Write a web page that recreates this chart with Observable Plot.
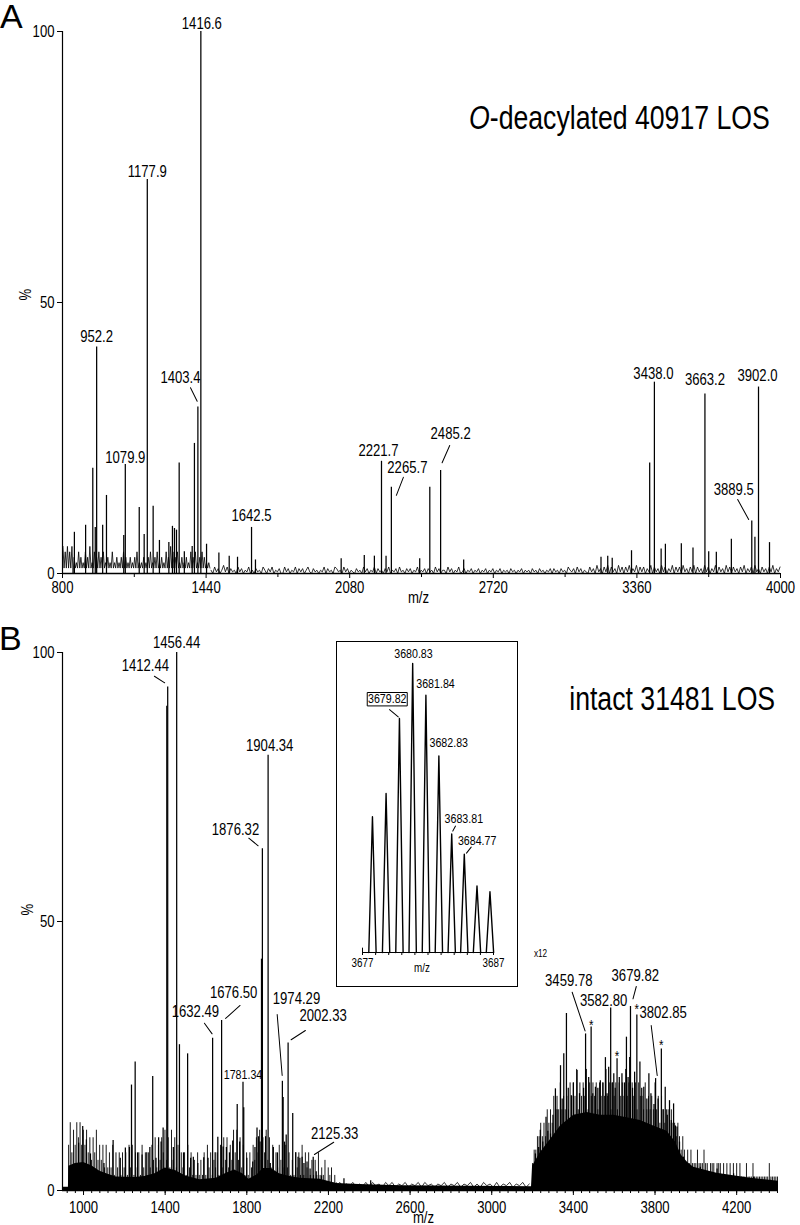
<!DOCTYPE html>
<html><head><meta charset="utf-8">
<script src="https://cdn.jsdelivr.net/npm/d3@7"></script>
<script src="https://cdn.jsdelivr.net/npm/@observablehq/plot@0.6"></script>
<style>
body{margin:0;background:#fff;}
#root{position:relative;width:800px;height:1225px;overflow:hidden;background:#fff;}
.abs{position:absolute;}
.title{font-family:"Liberation Sans Narrow","Arial Narrow","Liberation Sans",Arial,sans-serif;font-size:32.5px;line-height:1;white-space:nowrap;color:#000;transform:scaleX(0.82);transform-origin:right center;}
.letter{font-family:"Liberation Sans",Arial,sans-serif;font-size:34px;line-height:30px;color:#000;}
#inset{position:absolute;left:336px;top:641px;width:180px;height:344px;border:1px solid #000;background:#fff;}
</style></head>
<body><div id="root">
<div id="pa" class="abs" style="left:0;top:0"></div>
<div id="pb" class="abs" style="left:0;top:610px"></div>
<div id="inset"></div>
<div class="abs letter" style="left:0;top:1px">A</div>
<div class="abs letter" style="left:-1px;top:622.5px">B</div>
<div class="abs title" style="right:30px;top:101.8px"><i>O</i>-deacylated 40917 LOS</div>
<div class="abs title" style="right:25px;top:682.5px">intact 31481 LOS</div>
</div>
<script>
const FONT = '"Liberation Sans Narrow","Arial Narrow","Liberation Sans",Arial,sans-serif';
const NARROW = 0.82; // horizontal condensing of the sans face, to mimic the narrow original

// ---------- Panel A: O-deacylated 40917 LOS ----------
const ticksA = [800, 1440, 2080, 2720, 3360, 4000];
const minorTicksA = [1120, 1760, 2400, 3040, 3680];
const yTicks = [0, 50, 100];
const peaksA = [
[853,7.6],[903,8.9],[935,19.4],[946,8.5],[952.2,41.8],[979,8.9],[996,14.4],[1073,7],[1079.9,20.1],[1142,12.2],[1164,7.2],[1177.9,72.7],[1204,12.4],[1232,6.1],[1274,5.7],[1290,8.7],[1299,8.3],[1308,8],[1320,20.4],[1343,4],[1378,5],[1388,24],[1403.4,30.7],[1416.6,100],[1442,5.4],[1497,3.8],[1543,3.2],[1580,3],[1642.5,8.5],[1660,2.5],[2042,2.7],[2145,3.3],[2190,3.2],[2221.7,20.7],[2242,3.2],[2265.7,15.9],[2392,2.7],[2437,15.9],[2485.2,19],[2588,2.5],[3200,3],[3230,3.2],[3250,2.8],[3336,4.2],[3417,20.4],[3438,35.3],[3468,4.5],[3487,5.4],[3558,5.5],[3610,4.7],[3663.2,33.1],[3680,4],[3714,3.9],[3781,6.3],[3872,9.7],[3886,6.7],[3902,34.4],[3951,5.7]
];
// baseline noise read as digit strings (first in %, second in 0.3 % units)
const noiseA1 = "5141514150"+"3121413121"+"4131512141"+"3141314121"+"3121412131"+"2131413121"+"3121314121"+"2131213141"+"2131412131"+"2141315141"+"3141213121"+"3121413141"+"2131413121"+"21";
const noiseA2 = "2041302514"+"0312041302"+"1402031204"+"2031402130"+"0413021403"+"1302410312"+"0214031204"+"3120413021"+"0312041302"+"1403120314"+"0213041203"+"1302140213"+"0312041302"+"2041302140"+"1302130213"+"0213021302"+"1302120312"+"0213021203"+"1203120213"+"0312031204"+"2130413021"+"0413051304"+"1504130514"+"0415031504"+"1403150413"+"0514031504"+"1405130415"+"0413051403"+"1504130514"+"0413041503"+"1405130413"+"04150314";
const labelsA = [["952.2",952.2],["1079.9",1079.9],["1177.9",1177.9],["1403.4",1403.4],["1416.6",1416.6],["1642.5",1642.5],["2221.7",2221.7],["2265.7",2265.7],["2485.2",2485.2],["3438.0",3438],["3663.2",3663.2],["3889.5",3872],["3902.0",3902]];

// ---------- Panel B: intact 31481 LOS ----------
const ticksB = [1000, 1400, 1800, 2200, 2600, 3000, 3400, 3800, 4200];
const peaksB = [
[976,8.8],[996,11.9],[1014,9.4],[1034,6.8],[1100,5],[1145,9.3],[1180,6],[1205,7.9],[1225,8],[1235,19.6],[1253,23.9],[1265,7],[1287,6.6],[1310,7],[1325,8],[1339,21.2],[1355,6],[1368,9.8],[1380,9],[1390,11.6],[1408,90],[1412.44,93.6],[1440,8],[1456.44,100],[1470,27.1],[1490,7],[1510,25.4],[1525,6],[1538,6.2],[1560,5],[1589,6.1],[1610,6],[1632.49,28.3],[1645,7],[1658,9.9],[1676.5,31.6],[1684,8.1],[1700,8],[1715,7],[1731,9.2],[1753,16],[1765,9],[1781.34,20.1],[1785,15.4],[1800,6],[1829,5.3],[1840,8],[1850,11.6],[1858,10],[1865,9],[1872,43],[1876.32,63.5],[1892,10],[1904.34,80.9],[1915,5],[1930,8],[1950,7],[1974.29,20.3],[1978,17.3],[1985,9],[1993,10.3],[2002.33,27.4],[2025,14.3],[2040,7],[2051,6.2],[2060,6],[2071,6.2],[2080,5],[2095,5.3],[2110,4],[2125.33,6.2],[2140,3.5],[2166,2.7],[2276,2.2],[2407,1.8],
[3206,4.6],[3214,6.8],[3230,8],[3238,11.2],[3250,9],[3266,13.6],[3275,11],[3288,10.5],[3300,14],[3312,18.9],[3320,15],[3337,23.2],[3345,17],[3353,25.4],[3366,32.9],[3375,19],[3390,17.6],[3400,20],[3418,22.3],[3430,18],[3443,14.2],[3450,19],[3459.78,29.1],[3475,21],[3487,30.4],[3495,18],[3508,19.2],[3520,19],[3532,20.4],[3545,20],[3557,24.7],[3565,18],[3573,22.9],[3582.8,33.9],[3590,20],[3598,21.7],[3605,19],[3614,24.5],[3625,21],[3638,21.7],[3650,20],[3660,28.5],[3668,21],[3676,24.7],[3679.82,34.2],[3690,19],[3700,22],[3711,32.6],[3726,23.9],[3735,19],[3745,19.2],[3760,17],[3770,21.7],[3780,18],[3795,16],[3802.85,20.8],[3815,17],[3831,26.3],[3840,15],[3850,19.2],[3860,14],[3871,16.7],[3880,13],[3891,16.1],[3900,12],[3908,11.8],[3920,9],[3940,6.2],[3973,4.6],[4022,4.3],[4104,4],[4185,3.1],[4283,2.5],[4365,1.9]
];
const continuumB = [[897,0.6],[926,0.6],[928,4.5],[960,5],[1000,5.2],[1040,4.6],[1080,3.6],[1120,3],[1160,2.5],[1250,2.4],[1300,2.6],[1350,3.1],[1400,4.2],[1450,3.7],[1500,2.7],[1570,2],[1650,2.3],[1700,3.2],[1740,3.8],[1780,3.1],[1810,2.1],[1850,2.9],[1880,4.1],[1920,4.1],[1960,3.1],[2000,2.7],[2060,2.3],[2160,2.1],[2240,1.3],[2350,1.1],[2560,0.9],[2900,0.8],[3195,0.7],[3200,4.5],[3238,7],[3288,9.5],[3337,12],[3402,14],[3467,14.5],[3532,14],[3598,14],[3663,13.5],[3728,13],[3793,12],[3859,11],[3900,9],[3930,6.5],[3960,5.2],[3989,4.3],[4103,3.2],[4267,2.3],[4405,1.7]];
// dense spectral forest, heights read as digit strings (1.4 % and 2.5 % units), baseline fuzz (0.3 % units)
const forestB1 = "6958697968"+"6857475846"+"4636353625"+"3525352636"+"2535263525"+"3647364758"+"4738473625"+"3526352425"+"2425263524"+"3526374736"+"4858473625"+"2536475847"+"5847362536"+"4736352425"+"3526253524"+"2425232413"+"23121";
const noiseB2 = "3524352435"+"2534253524"+"3524352534"+"2435243524"+"3524253425"+"2435243524";
const forestB3 = "2334454546"+"5657676867"+"6768787968"+"7879687878"+"6878797868"+"7868787978"+"6878687768"+"6767686757"+"6566565545"+"4343232322"+"2322232212"+"2212221212"+"1212121211"+"1211121111"+"1111121111"+"1";
const labelsB = ["1412.44","1456.44","1632.49","1676.50","1781.34","1876.32","1904.34","1974.29","2002.33","2125.33","3459.78","3582.80","3679.82","3802.85"];
const starsB = [3487, 3614, 3711, 3831];
const magnificationB = [{t: "x12", m: 3200, h: 44}];

// ---------- Inset: isotope cluster ----------
const insetPeaks = [[3677.76,47],[3678.8,55],[3679.82,81],[3680.83,100],[3681.84,89],[3682.83,68],[3683.81,41],[3684.77,34],[3685.74,23],[3686.73,21]];
const insetTicks = [3677,3678,3679,3680,3681,3682,3683,3684,3685,3686,3687];
const insetTickLabels = [3677, 3687];
const labelsC = ["3679.82","3680.83","3681.84","3682.83","3683.81","3684.77"];

// ---------- layout (pixel offsets from peak tops) ----------
const layoutA = {
  "952.2": {dx:0, dy:-10}, "1079.9": {dx:0, dy:-7}, "1177.9": {dx:0, dy:-8},
  "1403.4": {dx:-17.4, dy:-29.3, lead:[-7.4,-19.3,-0.7,-5.9]},
  "1416.6": {dx:1, dy:-8}, "1642.5": {dx:0, dy:-12}, "2221.7": {dx:-3, dy:-10},
  "2265.7": {dx:16, dy:-19, lead:[5,8,12,-10]},
  "2485.2": {dx:10, dy:-36.7, lead:[1.5,-7.7,9.1,-25]},
  "3438.0": {dx:-1, dy:-8.4}, "3663.2": {dx:0, dy:-14},
  "3889.5": {dx:-18, dy:-30.7, lead:[-14.1,-21.4,-3.1,-1.4]},
  "3902.0": {dx:-1, dy:-10.7}
};
const layoutB = {
  "1412.44": {dx:-22.3, dy:-21.4, lead:[-13.3,-10.7,-3,-4.1]},
  "1456.44": {dx:0, dy:-10},
  "1632.49": {dx:-17.2, dy:-26.7, lead:[-8.2,-15,-0.5,-4.4]},
  "1676.50": {dx:12.1, dy:-27.3, lead:[18.5,-15,4,-2]},
  "1781.34": {dx:0, dy:-8, size:13},
  "1876.32": {dx:-26.9, dy:-19.1, lead:[-13.6,-10.7,-4.2,-3.1]},
  "1904.34": {dx:1.6, dy:-9.8},
  "1974.29": {dx:14.1, dy:-82.5, lead:[-5.2,-66.8,-0.2,-5.8]},
  "2002.33": {dx:35, dy:-26.9, lead:[17.3,-12.6,3,-3.3]},
  "2125.33": {dx:21.5, dy:-23.3, lead:[20.5,-14.9,1.2,-2.6]},
  "3459.78": {dx:-16.8, dy:-53.4, lead:[-13.4,-41.7,-0.5,-3]},
  "3582.80": {dx:-7, dy:-7},
  "3679.82": {dx:4.8, dy:-31, lead:[5.8,-20,2.5,-7.7]},
  "3802.85": {dx:7.6, dy:-65.4, lead:[-4.4,-53.1,1.6,-3.1]}
};
const starDy = [-1, -2, -6, -3];
const layoutC = {
  "3679.82": {dx:-12.2, dy:-19.2, box:true, lead:[-9.9,-8.9,-1.2,-1.5]},
  "3680.83": {dx:0.8, dy:-10},
  "3681.84": {dx:9.6, dy:-11.8},
  "3682.83": {dx:9.9, dy:-13},
  "3683.81": {dx:12.1, dy:-15.3, lead:[3.8,-7.9,1.1,-2.9]},
  "3684.77": {dx:12.9, dy:-13.8, lead:[6.9,-7.1,2.2,-1.1]}
};

// ---------- helpers ----------
function digits(start, step, str, scale, s) {
  return Array.from(str, (d, i) => ({m: start + i * step, h: +d * scale, s}));
}
const asObj = arr => arr.map(([m, h]) => ({m, h}));
const boxSymbol = {draw(ctx) { ctx.moveTo(-20,-6.7); ctx.lineTo(20,-6.7); ctx.lineTo(20,6.7); ctx.lineTo(-20,6.7); ctx.closePath(); }};

function labelMarks(labels, peaks, layout, fontSize) {
  const hOf = new Map(peaks.map(([m, h]) => [m, h]));
  return labels.flatMap(l => {
    const [t, m] = Array.isArray(l) ? l : [l, parseFloat(l)];
    const L = layout[t] || {};
    const d = {t, m, h: hOf.get(m)};
    const out = [];
    if (L.box) out.push(Plot.dot([d], {x: "m", y: "h", dx: L.dx, dy: L.dy, symbol: boxSymbol, stroke: "black", fill: "none", strokeWidth: 1}));
    out.push(Plot.text([d], {x: "m", y: "h", text: "t", dx: L.dx ?? 0, dy: L.dy ?? -9, fontSize: L.size ?? fontSize, lineAnchor: "middle", fill: "black"}));
    if (L.lead) {
      const [x1, y1, x2, y2] = L.lead;
      const vx = x2 - x1, vy = y2 - y1;
      out.push(Plot.vector([d], {x: "m", y: "h", dx: x1, dy: y1, length: Math.hypot(vx, vy),
        rotate: Math.atan2(vx, -vy) * 180 / Math.PI, anchor: "start", r: 0, stroke: "black", strokeWidth: 1}));
    }
    return out;
  });
}
// condense every text horizontally about its own anchor point
function condense(svg) {
  svg.querySelectorAll("text").forEach(t => {
    const x = +t.getAttribute("x") || 0, y = +t.getAttribute("y") || 0;
    const tr = t.getAttribute("transform") || "";
    t.setAttribute("transform", `${tr} translate(${x},${y}) scale(${NARROW},1) translate(${-x},${-y})`);
  });
  return svg;
}

// ---------- Plot A ----------
const noiseA = [...digits(802, 5, noiseA1, 1, "a1"), ...digits(1462, 8, noiseA2, 0.3, "a2")];
const plotA = Plot.plot({
  width: 800, height: 610, marginTop: 31, marginBottom: 37, marginLeft: 62, marginRight: 20,
  style: {fontFamily: FONT, fontSize: "16px", color: "black", background: "white"},
  x: {domain: [800, 4000]},
  y: {domain: [0, 100]},
  marks: [
    Plot.line(noiseA, {x: "m", y: "h", z: "s", stroke: "black", strokeWidth: 0.8}),
    Plot.ruleX(asObj(peaksA), {x: "m", y1: 0, y2: "h", stroke: "black", strokeWidth: 1.25}),
    Plot.ruleY([0], {stroke: "black", strokeWidth: 1.6}),
    Plot.ruleX([800], {y1: 0, y2: 100, stroke: "black", strokeWidth: 1.2}),
    Plot.axisX({ticks: ticksA, tickSize: 5, tickPadding: 3, label: null, tickFormat: d => String(d)}),
    Plot.axisX({ticks: minorTicksA, tickSize: 4, label: null, tickFormat: () => ""}),
    Plot.axisY({ticks: yTicks, tickSize: 5, tickPadding: 3, label: null, tickFormat: d => String(d)}),
    Plot.text(["m/z"], {text: d => d, frameAnchor: "bottom", dx: -3, dy: 24, lineAnchor: "middle"}),
    Plot.text(["%"], {text: d => d, frameAnchor: "left", dx: -37, dy: -2, rotate: -90, lineAnchor: "middle"}),
    ...labelMarks(labelsA, peaksA, layoutA, 16)
  ]
});
document.getElementById("pa").append(condense(plotA));

// ---------- Plot B ----------
const forestB = [...digits(927, 8, forestB1, 1.4, "b1"), ...digits(3200, 8, forestB3, 2.5, "b3")];
const hB = new Map(peaksB.map(([m, h]) => [m, h]));
const plotB = Plot.plot({
  width: 800, height: 615, marginTop: 42, marginBottom: 35, marginLeft: 62, marginRight: 22,
  style: {fontFamily: FONT, fontSize: "16px", color: "black", background: "white"},
  x: {domain: [897, 4405]},
  y: {domain: [0, 100]},
  marks: [
    Plot.areaY(asObj(continuumB), {x: "m", y: "h", fill: "black"}),
    Plot.ruleX(forestB, {x: "m", y1: 0, y2: "h", stroke: "black", strokeWidth: 0.9}),
    Plot.line(digits(2240, 16, noiseB2, 0.3, "b2"), {x: "m", y: "h", stroke: "black", strokeWidth: 0.8}),
    Plot.ruleX(asObj(peaksB), {x: "m", y1: 0, y2: "h", stroke: "black", strokeWidth: 1.25}),
    Plot.ruleY([0], {stroke: "black", strokeWidth: 1.6}),
    Plot.ruleX([897], {y1: 0, y2: 100, stroke: "black", strokeWidth: 1.2}),
    Plot.axisX({ticks: ticksB, tickSize: 5, tickPadding: 6, label: null, tickFormat: d => String(d)}),
    Plot.axisX({ticks: d3.range(920, 4405, 40), tickSize: 3, label: null, tickFormat: () => ""}),
    Plot.axisY({ticks: yTicks, tickSize: 5, tickPadding: 3, label: null, tickFormat: d => String(d)}),
    Plot.text(["m/z"], {text: d => d, frameAnchor: "bottom", dx: 3, dy: 32, lineAnchor: "bottom"}),
    Plot.text(["%"], {text: d => d, frameAnchor: "left", dx: -35, dy: -6, rotate: -90, lineAnchor: "middle"}),
    Plot.text(magnificationB, {x: "m", y: "h", text: "t", dx: 8, fontSize: 10, lineAnchor: "middle"}),
    ...starsB.map((m, i) => Plot.text([{m, h: hB.get(m)}], {x: "m", y: "h", text: () => "*", dy: starDy[i], fontSize: 14, lineAnchor: "middle"})),
    ...labelMarks(labelsB, peaksB, layoutB, 16)
  ]
});
document.getElementById("pb").append(condense(plotB));

// ---------- Inset ----------
const insetShapes = insetPeaks.flatMap(([m, h], i) => [{m: m - 0.28, h: 0, k: i}, {m, h, k: i}, {m: m + 0.28, h: 0, k: i}]);
const plotC = Plot.plot({
  width: 180, height: 344, marginTop: 21, marginBottom: 34, marginLeft: 25, marginRight: 24,
  style: {fontFamily: FONT, fontSize: "12px", color: "black", background: "white"},
  x: {domain: [3677, 3687]},
  y: {domain: [0, 100], axis: null},
  marks: [
    Plot.line(insetShapes, {x: "m", y: "h", z: "k", stroke: "black", strokeWidth: 1.4}),
    Plot.ruleY([0], {stroke: "black", strokeWidth: 1.2}),
    Plot.ruleX([3677], {y1: 0, y2: 1.5, stroke: "black"}),
    Plot.axisX({ticks: insetTicks, tickSize: 3, tickPadding: 3, label: null, tickFormat: d => insetTickLabels.includes(d) ? String(d) : ""}),
    Plot.text(["m/z"], {text: d => d, frameAnchor: "bottom", dx: -6, dy: 16, fontSize: 12, lineAnchor: "middle"}),
    ...labelMarks(labelsC, insetPeaks, layoutC, 13)
  ]
});
document.getElementById("inset").append(condense(plotC));
</script></body></html>
